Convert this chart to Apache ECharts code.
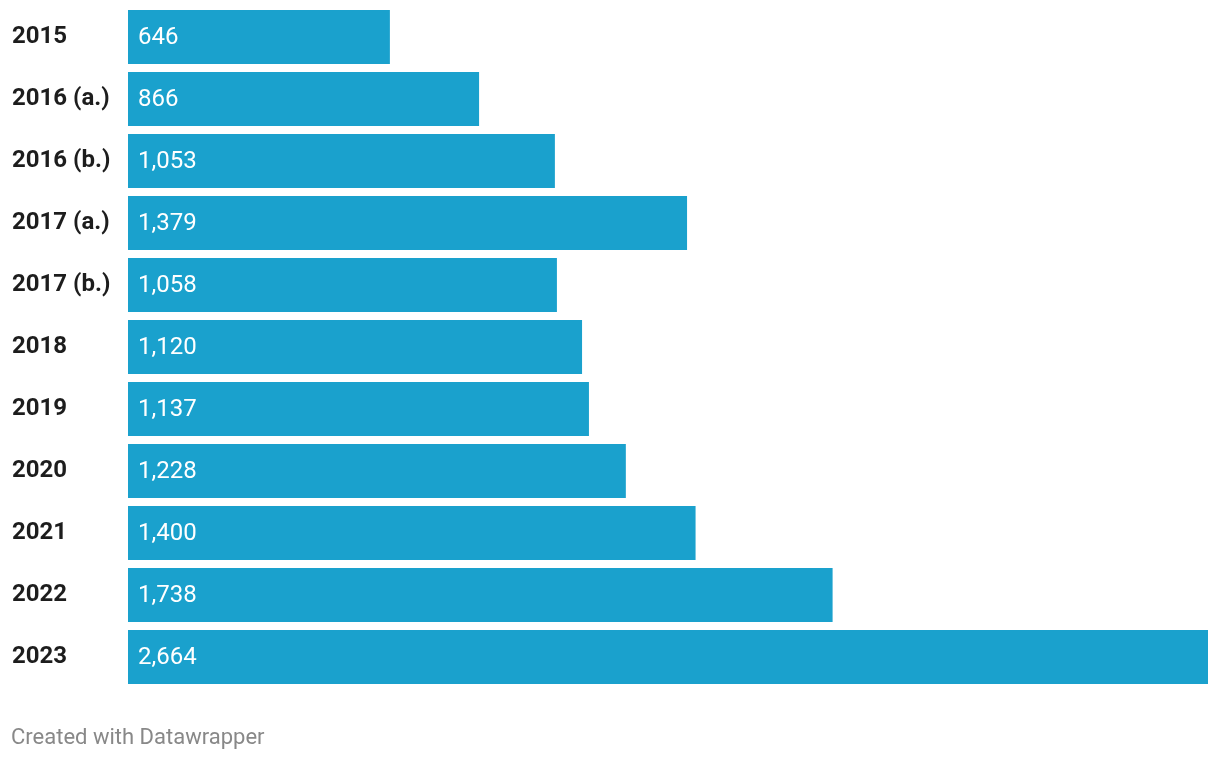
<!DOCTYPE html>
<html>
<head>
<meta charset="utf-8">
<script src="https://cdn.jsdelivr.net/npm/echarts@6/dist/echarts.min.js"></script>
<style>
  html, body { margin: 0; padding: 0; background: #fff; }
  #main { width: 1220px; height: 760px; }
</style>
</head>
<body>
<div id="main"></div>
<script>
const years = ["2015", "2016 (a.)", "2016 (b.)", "2017 (a.)", "2017 (b.)", "2018", "2019", "2020", "2021", "2022", "2023"];
const counts = [646, 866, 1053, 1379, 1058, 1120, 1137, 1228, 1400, 1738, 2664];

const chart = echarts.init(document.getElementById("main"));
chart.setOption({
  animation: false,
  grid: { left: 128, right: 12, top: 6, height: 682 },
  xAxis: {
    type: "value",
    min: 0,
    max: 2664,
    show: false
  },
  yAxis: {
    type: "category",
    data: years,
    inverse: true,
    axisLine: { show: false },
    axisTick: { show: false },
    axisLabel: {
      align: "left",
      margin: 116,
      padding: [2, 0, 0, 0],
      fontFamily: "Roboto",
      fontWeight: "bold",
      fontSize: 24,
      color: "#1d1d1d"
    }
  },
  series: [
    {
      type: "bar",
      data: counts,
      barWidth: 54,
      itemStyle: { color: "#1aa1cd" },
      label: {
        show: true,
        position: "insideLeft",
        distance: 10,
        offset: [0, 1],
        fontFamily: "Roboto",
        fontSize: 24,
        color: "#fff",
        formatter: p => p.value.toLocaleString("en-US")
      }
    }
  ],
  graphic: [
    {
      type: "text",
      left: 11,
      top: 727,
      style: {
        text: "Created with Datawrapper",
        fontFamily: "Roboto",
        fontSize: 22,
        fill: "#888"
      }
    }
  ]
});
</script>
</body>
</html>
